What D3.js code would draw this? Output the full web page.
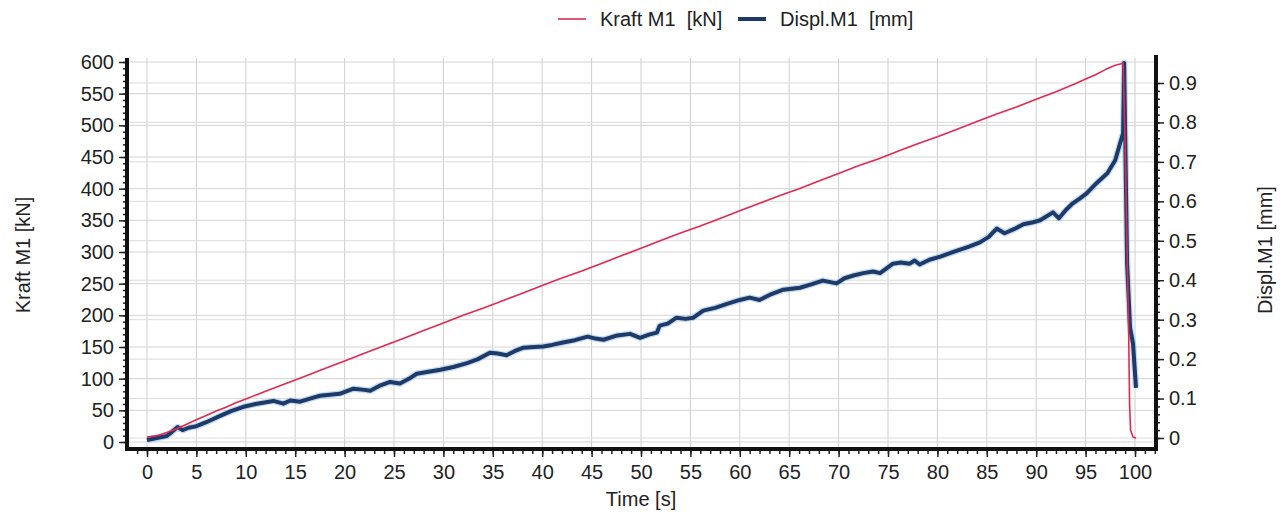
<!DOCTYPE html>
<html>
<head>
<meta charset="utf-8">
<script src="https://cdn.jsdelivr.net/npm/d3@7"></script>
<style>
  body { margin: 0; background: #fff; }
  svg { display: block; font-family: "Liberation Sans", Arial, sans-serif; }
  .tick text { font-size: 20px; fill: #222; }
  .tick line { stroke: #222; }
</style>
</head>
<body>
<svg id="chart" width="1287" height="512"></svg>
<script>
// time [s], force [kN]
var kraftData = [
  [0, 8], [1, 10], [2, 15], [3, 21], [4, 28], [5, 35], [6, 42], [7, 49], [8, 55], [9, 62],
  [10, 68], [12, 80], [14, 92], [16, 104], [18, 116], [20, 128], [22, 140], [24, 152],
  [26, 164], [28, 176], [30, 188], [32, 200], [34, 211], [36, 223], [38, 235], [40, 247],
  [42, 259], [44, 270], [46, 282], [48, 294], [50, 306], [52, 318], [54, 330], [56, 341],
  [58, 353], [60, 365], [62, 377], [64, 389], [66, 400], [68, 412], [70, 424], [72, 436],
  [74, 447], [76, 459], [78, 471], [80, 482], [82, 494], [84, 506], [86, 518], [88, 529],
  [90, 541], [92, 553], [94, 566], [95, 573], [96, 580], [97, 588], [98, 595], [98.8, 598],
  [99.0, 470], [99.2, 300], [99.35, 182], [99.45, 60], [99.55, 19], [99.8, 8], [100.1, 6]
];

// time [s], displacement [mm]
var displData = [
  [0, -0.005], [1, 0.0], [2, 0.005], [2.5, 0.015], [3.1, 0.028], [3.6, 0.02], [4.2, 0.026],
  [5, 0.03], [6, 0.04], [7.4, 0.056], [8.5, 0.068], [9.9, 0.08], [11, 0.086], [12.8, 0.094],
  [13.8, 0.087], [14.5, 0.095], [15.5, 0.092], [16.5, 0.1], [17.5, 0.107], [19.5, 0.112],
  [20.9, 0.125], [22, 0.122], [22.6, 0.12], [23.5, 0.132], [24.6, 0.142], [25.6, 0.138],
  [26.5, 0.15], [27.3, 0.163], [28.5, 0.168], [29.7, 0.173], [31, 0.18], [32.4, 0.19],
  [33.5, 0.2], [34.7, 0.216], [35.5, 0.214], [36.4, 0.21], [37.2, 0.22], [38.1, 0.229],
  [39.2, 0.231], [40.1, 0.232], [41, 0.236], [42.1, 0.242], [43.3, 0.248], [44.6, 0.257],
  [45.4, 0.252], [46.2, 0.249], [47.6, 0.26], [48.9, 0.264], [49.9, 0.254], [50.8, 0.262],
  [51.6, 0.267], [51.9, 0.285], [52.7, 0.29], [53.6, 0.305], [54.5, 0.302], [55.3, 0.305],
  [56.3, 0.323], [57.5, 0.33], [58.7, 0.34], [60, 0.35], [61, 0.356], [62, 0.35],
  [63.2, 0.365], [64.4, 0.376], [66.1, 0.381], [67.3, 0.39], [68.4, 0.399], [69.8, 0.392],
  [70.6, 0.405], [71.5, 0.412], [72.5, 0.418], [73.5, 0.422], [74.2, 0.418], [75.5, 0.442],
  [76.3, 0.445], [77.2, 0.442], [77.7, 0.45], [78.2, 0.44], [79.2, 0.452], [80.3, 0.46],
  [81.2, 0.468], [82, 0.475], [83.2, 0.485], [84.3, 0.496], [85.2, 0.51], [86, 0.531],
  [86.8, 0.519], [87.8, 0.53], [88.7, 0.542], [89.7, 0.547], [90.4, 0.552], [91.7, 0.572],
  [92.3, 0.557], [93, 0.578], [93.7, 0.595], [94.4, 0.607], [95.1, 0.62], [96.1, 0.646],
  [97.2, 0.671], [98, 0.704], [98.5, 0.748], [98.8, 0.773], [98.9, 0.951], [99.2, 0.443],
  [99.5, 0.28], [99.8, 0.239], [100.1, 0.127]
];

var timeTicks = d3.range(0, 101, 5),
    kraftTicks = d3.range(0, 601, 50),
    displTicks = [0, 0.1, 0.2, 0.3, 0.4, 0.5, 0.6, 0.7, 0.8, 0.9];

var seriesNames = ['Kraft M1 [kN]', 'Displ.M1 [mm]'],
    seriesColors = ['#e2294f', '#1d3a68'];

var
  frame = {left: 127, right: 1156, top: 58, bottom: 449},
  svg = d3.select('#chart'),
  x = d3.scaleLinear().domain([0, 100]).range([147, 1135]),
  yL = d3.scaleLinear().domain([0, 600]).range([442, 62]),
  yR = d3.scaleLinear().domain([0, 0.9]).range([438, 83])
  ;

// grid
var grid = svg.append('g').attr('class', 'grid');
grid.selectAll('line.v')
  .data(timeTicks)
  .enter().append('line')
  .attr('x1', x).attr('x2', x)
  .attr('y1', frame.top).attr('y2', frame.bottom)
  .attr('stroke', '#cfcfcf').attr('stroke-width', 1);
grid.selectAll('line.hl')
  .data(kraftTicks)
  .enter().append('line')
  .attr('x1', frame.left).attr('x2', frame.right)
  .attr('y1', yL).attr('y2', yL)
  .attr('stroke', '#d4d4d4').attr('stroke-width', 1);
grid.selectAll('line.hr')
  .data(displTicks)
  .enter().append('line')
  .attr('x1', frame.left).attr('x2', frame.right)
  .attr('y1', yR).attr('y2', yR)
  .attr('stroke', '#dcdcdc').attr('stroke-width', 1);

// axes
function styleAxis(g){
  g.select('.domain').remove();
  g.selectAll('.tick line').attr('stroke-width', 1.5);
}

svg.append('g')
  .attr('transform', 'translate(' + frame.left + ',0)')
  .call(d3.axisLeft(yL).tickValues(d3.range(0, 601, 10)).tickSize(4).tickFormat(''))
  .call(styleAxis);
svg.append('g')
  .attr('transform', 'translate(' + frame.left + ',0)')
  .call(d3.axisLeft(yL).tickValues(kraftTicks).tickSize(8).tickPadding(5))
  .call(styleAxis);

svg.append('g')
  .attr('transform', 'translate(' + frame.right + ',0)')
  .call(d3.axisRight(yR).tickValues(d3.range(0, 46).map(function(i){ return i * 0.02; })).tickSize(4).tickFormat(''))
  .call(styleAxis);
svg.append('g')
  .attr('transform', 'translate(' + frame.right + ',0)')
  .call(d3.axisRight(yR).tickValues(displTicks).tickSize(8).tickPadding(5)
    .tickFormat(function(d){ return String(d); }))
  .call(styleAxis);

svg.append('g')
  .attr('transform', 'translate(0,' + frame.bottom + ')')
  .call(d3.axisBottom(x).tickValues(d3.range(-1, 103, 1)).tickSize(5).tickFormat(''))
  .call(styleAxis);
svg.append('g')
  .attr('transform', 'translate(0,' + frame.bottom + ')')
  .call(d3.axisBottom(x).tickValues(timeTicks).tickSize(8).tickPadding(8))
  .call(styleAxis);

// lines
var kraftLine = d3.line().x(function(d){ return x(d[0]); }).y(function(d){ return yL(d[1]); }),
    displLine = d3.line().x(function(d){ return x(d[0]); }).y(function(d){ return yR(d[1]); });

svg.append('path')
  .datum(displData)
  .attr('d', displLine)
  .attr('fill', 'none')
  .attr('stroke', '#9fc3e6')
  .attr('stroke-opacity', 0.6)
  .attr('stroke-width', 6.5)
  .attr('stroke-linejoin', 'round');
svg.append('path')
  .datum(displData)
  .attr('d', displLine)
  .attr('fill', 'none')
  .attr('stroke', seriesColors[1])
  .attr('stroke-width', 4)
  .attr('stroke-linejoin', 'round');
svg.append('path')
  .datum(kraftData)
  .attr('d', kraftLine)
  .attr('fill', 'none')
  .attr('stroke', seriesColors[0])
  .attr('stroke-width', 1.6)
  .attr('stroke-linejoin', 'round');

// frame lines (thick)
svg.append('g')
  .selectAll('line')
  .data([
    [frame.left, frame.top, frame.left, frame.bottom + 2],
    [frame.right, frame.top - 3, frame.right, frame.bottom + 2],
    [frame.left - 2, frame.bottom, frame.right + 2, frame.bottom]
  ])
  .enter().append('line')
  .attr('x1', function(d){ return d[0]; })
  .attr('y1', function(d){ return d[1]; })
  .attr('x2', function(d){ return d[2]; })
  .attr('y2', function(d){ return d[3]; })
  .attr('stroke', '#111')
  .attr('stroke-width', 4);

// axis titles
svg.append('text')
  .attr('x', (x(0) + x(100)) / 2)
  .attr('y', 506)
  .attr('text-anchor', 'middle')
  .attr('font-size', 20)
  .attr('fill', '#222')
  .text('Time [s]');
svg.append('text')
  .attr('transform', 'translate(30,255) rotate(-90)')
  .attr('text-anchor', 'middle')
  .attr('font-size', 20)
  .attr('fill', '#222')
  .text(seriesNames[0]);
svg.append('text')
  .attr('transform', 'translate(1272,250) rotate(-90)')
  .attr('text-anchor', 'middle')
  .attr('font-size', 20)
  .attr('fill', '#222')
  .text(seriesNames[1]);

// legend
var legend = svg.append('g').attr('class', 'legend'),
    legendX = [558, 738],
    legendW = [1.6, 4];
seriesNames.forEach(function(name, i){
  legend.append('line')
    .attr('x1', legendX[i]).attr('x2', legendX[i] + 28)
    .attr('y1', 19).attr('y2', 19)
    .attr('stroke', seriesColors[i])
    .attr('stroke-width', legendW[i]);
  legend.append('text')
    .attr('x', legendX[i] + 42)
    .attr('y', 26)
    .attr('font-size', 20)
    .attr('fill', '#222')
    .attr('xml:space', 'preserve')
    .text(name.replace(' [', '  ['));
});
</script>
</body>
</html>
